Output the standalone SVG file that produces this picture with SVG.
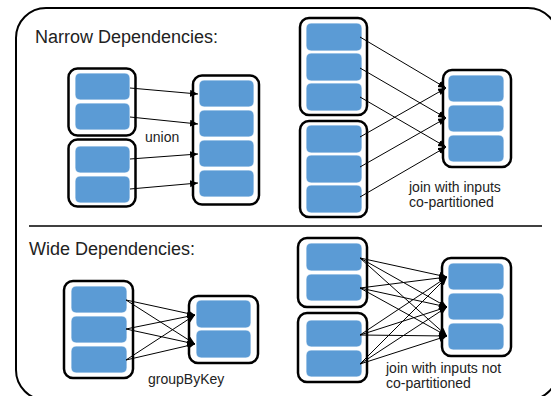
<svg xmlns="http://www.w3.org/2000/svg" width="551" height="396" viewBox="0 0 551 396">
<defs>
<marker id="ah" markerUnits="userSpaceOnUse" markerWidth="9" markerHeight="8" refX="8" refY="3.5" orient="auto">
<path d="M0,0 L8,3.5 L0,7 z" fill="#000"/>
</marker>
<style>
.frame{fill:#fff;stroke:#000;stroke-width:2}
.rdd{fill:#fff;stroke:#000;stroke-width:2.5}
.p{fill:#5B9BD5;stroke:#fff;stroke-width:0.8}
.t{font-family:"Liberation Sans",Arial,sans-serif;fill:#222}
.h{font-size:18px}
.s{font-size:14px}
.c line{stroke:#000;stroke-width:1;marker-end:url(#ah)}
</style>
</defs>
<rect class="frame" x="16" y="8" width="542" height="392" rx="30"/>
<line x1="29" y1="226" x2="542" y2="226" stroke="#000" stroke-width="1.5"/>
<text class="t h" x="35" y="43">Narrow Dependencies:</text>
<text class="t h" x="29" y="255">Wide Dependencies:</text>

<g id="union-a">
<rect class="rdd" x="68.5" y="68.5" width="67" height="67" rx="9"/>
<rect class="p" x="75" y="73" width="55" height="27" rx="5"/>
<rect class="p" x="75" y="103" width="55" height="27" rx="5"/>
</g>
<g id="union-b">
<rect class="rdd" x="68.5" y="139.5" width="67" height="67" rx="9"/>
<rect class="p" x="75" y="146" width="55" height="27" rx="5"/>
<rect class="p" x="75" y="176" width="55" height="27" rx="5"/>
</g>
<g id="union-out">
<rect class="rdd" x="193" y="75.5" width="66" height="129" rx="9"/>
<rect class="p" x="199" y="80" width="55" height="27" rx="5"/>
<rect class="p" x="199" y="110" width="55" height="27" rx="5"/>
<rect class="p" x="199" y="140" width="55" height="27" rx="5"/>
<rect class="p" x="199" y="170" width="55" height="27" rx="5"/>
</g>
<text class="t s" x="145" y="142">union</text>

<g id="join-a">
<rect class="rdd" x="300" y="18" width="67" height="97" rx="9"/>
<rect class="p" x="306" y="23" width="56" height="28" rx="5"/>
<rect class="p" x="306" y="53" width="56" height="28" rx="5"/>
<rect class="p" x="306" y="83" width="56" height="28" rx="5"/>
</g>
<g id="join-b">
<rect class="rdd" x="300" y="121" width="67" height="96" rx="9"/>
<rect class="p" x="306" y="125" width="56" height="28" rx="5"/>
<rect class="p" x="306" y="155" width="56" height="28" rx="5"/>
<rect class="p" x="306" y="185" width="56" height="28" rx="5"/>
</g>
<g id="join-out">
<rect class="rdd" x="443" y="70" width="68" height="97" rx="9"/>
<rect class="p" x="448" y="75" width="56" height="27" rx="5"/>
<rect class="p" x="448" y="105" width="56" height="27" rx="5"/>
<rect class="p" x="448" y="135" width="56" height="27" rx="5"/>
</g>
<text class="t s" x="409" y="192">join with inputs</text>
<text class="t s" x="409" y="207">co-partitioned</text>

<g id="gbk-in">
<rect class="rdd" x="64" y="281" width="69" height="97" rx="9"/>
<rect class="p" x="71" y="286" width="56" height="27" rx="5"/>
<rect class="p" x="71" y="316" width="56" height="27" rx="5"/>
<rect class="p" x="71" y="346" width="56" height="27" rx="5"/>
</g>
<g id="gbk-out">
<rect class="rdd" x="189" y="296" width="69" height="67" rx="9"/>
<rect class="p" x="196" y="300" width="55" height="28" rx="5"/>
<rect class="p" x="196" y="330" width="55" height="28" rx="5"/>
</g>
<text class="t s" x="148" y="384">groupByKey</text>

<g id="wjoin-a">
<rect class="rdd" x="298" y="238" width="69" height="69" rx="9"/>
<rect class="p" x="306" y="243" width="56" height="28" rx="5"/>
<rect class="p" x="306" y="274" width="56" height="27" rx="5"/>
</g>
<g id="wjoin-b">
<rect class="rdd" x="298" y="313" width="69" height="69" rx="9"/>
<rect class="p" x="306" y="320" width="56" height="27" rx="5"/>
<rect class="p" x="306" y="350" width="56" height="27" rx="5"/>
</g>
<g id="wjoin-out">
<rect class="rdd" x="442" y="258" width="69" height="98" rx="9"/>
<rect class="p" x="448" y="263" width="56" height="27" rx="5"/>
<rect class="p" x="448" y="293" width="56" height="27" rx="5"/>
<rect class="p" x="448" y="323" width="56" height="27" rx="5"/>
</g>
<text class="t s" x="386" y="373">join with inputs not</text>
<text class="t s" x="386" y="388">co-partitioned</text>

<g id="connectors" class="c">
<line x1="130" y1="88" x2="198" y2="94"/>
<line x1="130" y1="117" x2="198" y2="124"/>
<line x1="130" y1="159" x2="198" y2="154"/>
<line x1="130" y1="189" x2="198" y2="183"/>

<line x1="360" y1="37" x2="446" y2="88"/>
<line x1="360" y1="68" x2="446" y2="118"/>
<line x1="360" y1="97" x2="446" y2="147"/>
<line x1="360" y1="137" x2="446" y2="88"/>
<line x1="360" y1="167" x2="446" y2="118"/>
<line x1="360" y1="197" x2="446" y2="147"/>

<line x1="126" y1="300" x2="195" y2="315"/>
<line x1="126" y1="300" x2="195" y2="344"/>
<line x1="126" y1="329" x2="195" y2="315"/>
<line x1="126" y1="329" x2="195" y2="344"/>
<line x1="126" y1="360" x2="195" y2="315"/>
<line x1="126" y1="360" x2="195" y2="344"/>

<line x1="360" y1="258" x2="447" y2="277"/>
<line x1="360" y1="258" x2="447" y2="307"/>
<line x1="360" y1="258" x2="447" y2="336"/>
<line x1="360" y1="288" x2="447" y2="277"/>
<line x1="360" y1="288" x2="447" y2="307"/>
<line x1="360" y1="288" x2="447" y2="336"/>
<line x1="360" y1="335" x2="447" y2="277"/>
<line x1="360" y1="335" x2="447" y2="307"/>
<line x1="360" y1="335" x2="447" y2="336"/>
<line x1="360" y1="364" x2="447" y2="277"/>
<line x1="360" y1="364" x2="447" y2="307"/>
<line x1="360" y1="364" x2="447" y2="336"/>
</g>
</svg>
